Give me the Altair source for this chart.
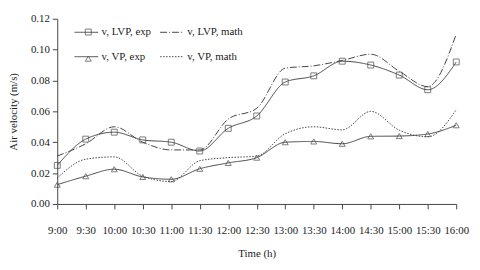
import altair as alt
import pandas as pd

times = ["9:00", "9:30", "10:00", "10:30", "11:00", "11:30", "12:00", "12:30",
         "13:00", "13:30", "14:00", "14:30", "15:00", "15:30", "16:00"]
lvp_exp = [0.025, 0.042, 0.0465, 0.0415, 0.040, 0.0343, 0.049, 0.057,
           0.079, 0.083, 0.0925, 0.090, 0.0835, 0.074, 0.092]
lvp_math = [0.031, 0.039, 0.050, 0.040, 0.035, 0.035, 0.055, 0.062,
            0.088, 0.0895, 0.093, 0.097, 0.086, 0.076, 0.110]
vp_exp = [0.0125, 0.018, 0.0225, 0.0175, 0.016, 0.0228, 0.0266, 0.030,
          0.040, 0.0405, 0.039, 0.0438, 0.044, 0.0453, 0.051]
vp_math = [0.0168, 0.029, 0.0305, 0.018, 0.0145, 0.028, 0.030, 0.031,
           0.0455, 0.050, 0.048, 0.060, 0.0478, 0.0435, 0.061]
series = ["v, LVP, exp", "v, VP, exp", "v, LVP, math", "v, VP, math"]
dashes = [[1, 0], [1, 0], [7, 2, 1, 2], [1.5, 1.5]]
exp_series = ["v, LVP, exp", "v, VP, exp"]

rows = []
for name, vals in zip(["v, LVP, exp", "v, LVP, math", "v, VP, exp", "v, VP, math"],
                      [lvp_exp, lvp_math, vp_exp, vp_math]):
    for t, v in zip(times, vals):
        rows.append({"time": t, "v": v, "series": name, "marker": name})
df = pd.DataFrame(rows)

FONT = "Liberation Serif"
INK = "#444444"

x_enc = alt.X("time:O", sort=times, scale=alt.Scale(padding=0),
              axis=alt.Axis(title="Time (h)", labelAngle=0, tickSize=5,
                            labelPadding=16, titlePadding=12, grid=False))
y_enc = alt.Y("v:Q", scale=alt.Scale(domain=[0, 0.12]),
              axis=alt.Axis(title="Air velocity (m/s)", values=[0, 0.02, 0.04, 0.06, 0.08, 0.10, 0.12],
                            format=".2f", tickSize=5, labelPadding=3, grid=False, titlePadding=12))

lines = alt.Chart(df).mark_line(interpolate="monotone", strokeWidth=1, color=INK).encode(
    x=x_enc, y=y_enc,
    strokeDash=alt.StrokeDash("series:N", sort=series,
        scale=alt.Scale(domain=series, range=dashes),
        legend=alt.Legend(title=None, orient="none", legendX=17, legendY=1, columns=2,
                          columnPadding=6, rowPadding=7, symbolSize=576, symbolType="stroke",
                          labelOffset=3, labelFont=FONT, labelFontSize=11, labelColor="#222222",
                          symbolStrokeColor=INK, symbolStrokeWidth=1, padding=0)),
)

pts = alt.Chart(df[df.series.isin(exp_series)]).mark_point(
    size=36, filled=False, color=INK, strokeWidth=1
).encode(
    x=x_enc, y=y_enc,
    shape=alt.Shape("marker:N", sort=exp_series,
        scale=alt.Scale(domain=exp_series, range=["square", "triangle-up"]),
        legend=alt.Legend(title=None, orient="none", legendX=26, legendY=8, columns=1,
                          rowPadding=15, symbolSize=36, labelFontSize=11, labelOpacity=0,
                          labelExpr="''", labelFont=FONT, symbolStrokeColor=INK,
                          symbolStrokeWidth=1, padding=0)),
)

chart = alt.layer(lines, pts).resolve_legend(shape="independent", strokeDash="independent").properties(
    width=405, height=188,
    autosize=alt.AutoSizeParams(type="none"),
    padding={"left": 50, "top": 9, "right": 16, "bottom": 56},
).configure_view(stroke=None).configure_axis(
    labelFont=FONT, titleFont=FONT, labelFontSize=11, titleFontSize=11,
    titleFontWeight="normal", labelColor="#222222", titleColor="#222222",
    domainColor=INK, tickColor=INK,
)

chart.save("out.html", embed_options={"renderer": "svg", "actions": False})
